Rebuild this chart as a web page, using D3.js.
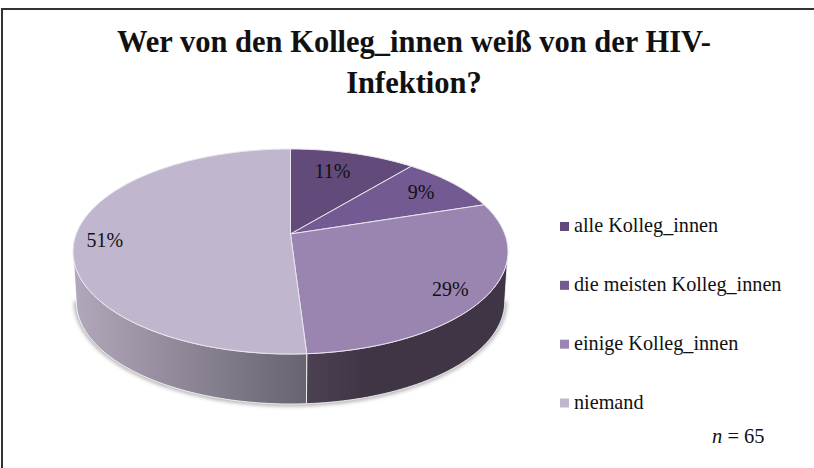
<!DOCTYPE html>
<meta charset="utf-8">
<style>
  body { margin: 0; background: #fff; }
  text { font-family: "Liberation Serif", serif; fill: #111; }
</style>
<div class="chart"></div>
<script src="https://d3js.org/d3.v7.min.js"></script>
<script>
  var categories = ["alle Kolleg_innen", "die meisten Kolleg_innen", "einige Kolleg_innen", "niemand"];
  var percents = [11, 9, 29, 51];
  var sliceColors = ["#624a7b", "#745a93", "#9a84b0", "#c0b6ce"];
  var titleLines = ["Wer von den Kolleg_innen weiß von der HIV-", "Infektion?"];

  var width = 814, height = 468;

  // tilted disc: circle coordinates go through a perspective projection
  var cx = 290.5, cy = 234, k = 0.1707, scaleX = 214.3, scaleY = 99.5, depth = 50, shrink = 0.985;

  var svg = d3.select(".chart").append("svg")
    .attr("width", width)
    .attr("height", height)
    .style("display", "block");

  var defs = svg.append("defs");

  var wallLight = defs.append("linearGradient").attr("id", "wallLight");
  wallLight.append("stop").attr("offset", 0).attr("stop-color", "#b2a8bb");
  wallLight.append("stop").attr("offset", 1).attr("stop-color", "#68636f");

  var wallDark = defs.append("linearGradient").attr("id", "wallDark");
  wallDark.append("stop").attr("offset", 0).attr("stop-color", "#4c4053");
  wallDark.append("stop").attr("offset", 0.3).attr("stop-color", "#403545");
  wallDark.append("stop").attr("offset", 1).attr("stop-color", "#403545");

  defs.append("filter").attr("id", "soft")
    .attr("x", "-10%").attr("y", "-10%").attr("width", "120%").attr("height", "120%")
    .append("feGaussianBlur").attr("stdDeviation", 2);

  // the frame only shows on the top and left side
  svg.append("path")
    .attr("d", "M2,468V9H814")
    .attr("fill", "none")
    .attr("stroke", "#333")
    .attr("stroke-width", 2);

  var title = svg.append("g").attr("font-weight", "bold").attr("font-size", 30.5).attr("text-anchor", "middle");
  titleLines.forEach(function(line, i) {
    title.append("text").attr("x", 414).attr("y", 52 + i * 41).text(line);
  });

  var pie = d3.pie().sort(null).value(function(d) { return d; });
  var arcs = pie(percents);

  function project(angle, r, drop) {
    var u = r * Math.sin(angle), v = r * Math.cos(angle), w = 1 + k * v;
    var x = scaleX * u / w, y = -scaleY * v / w;
    if (drop) return [cx + x * shrink, cy + y + depth];
    return [cx + x, cy + y];
  }

  function rim(a0, a1, drop) {
    var n = Math.max(2, Math.ceil((a1 - a0) * 40));
    return d3.range(n + 1).map(function(i) { return project(a0 + (a1 - a0) * i / n, 1, drop); });
  }

  var line = d3.line();

  // the outer walls, only the front half of the disc is visible
  var front0 = Math.PI / 2 + 0.17, front1 = 3 * Math.PI / 2 - 0.17;
  var split = arcs[3].startAngle;

  svg.append("path")
    .attr("d", line(rim(front0, split, true).concat(rim(split, front1, true))) )
    .attr("fill", "none")
    .attr("stroke", "#888")
    .attr("stroke-width", 3)
    .attr("filter", "url(#soft)");

  function wall(a0, a1, fill) {
    svg.append("path")
      .attr("d", line(rim(a0, a1, false).concat(rim(a0, a1, true).reverse())) + "Z")
      .attr("fill", fill)
      .attr("stroke", "#fff")
      .attr("stroke-width", 0.8);
  }
  wall(front0, split, "url(#wallDark)");
  wall(split, front1, "url(#wallLight)");

  svg.selectAll(".slice")
    .data(arcs)
    .enter().append("path")
    .attr("class", "slice")
    .attr("d", function(d) { return line([project(0, 0)].concat(rim(d.startAngle, d.endAngle))) + "Z"; })
    .attr("fill", function(d, i) { return sliceColors[i]; })
    .attr("stroke", "#e9e6ee")
    .attr("stroke-width", 1);

  var labelRadius = [0.72, 0.8, 0.83, 0.863];
  var labelNudge = [[-5, -1.5], [-1, 0.5], [0, 6], [0, 4]];
  svg.selectAll(".label")
    .data(arcs)
    .enter().append("text")
    .attr("class", "label")
    .attr("font-size", 20)
    .attr("text-anchor", "middle")
    .attr("x", function(d, i) { return project((d.startAngle + d.endAngle) / 2, labelRadius[i])[0] + labelNudge[i][0]; })
    .attr("y", function(d, i) { return project((d.startAngle + d.endAngle) / 2, labelRadius[i])[1] + 6 + labelNudge[i][1]; })
    .text(function(d, i) { return percents[i] + "%"; });

  var legendY = d3.scalePoint().domain(categories).range([226.5, 403]);
  var legend = svg.selectAll(".legend")
    .data(categories)
    .enter().append("g")
    .attr("class", "legend")
    .attr("transform", function(d) { return "translate(560," + legendY(d) + ")"; });
  legend.append("rect")
    .attr("y", -4.5).attr("width", 9).attr("height", 9)
    .attr("fill", function(d, i) { return sliceColors[i]; });
  legend.append("text")
    .attr("x", 14).attr("y", 5.5)
    .attr("font-size", 20.2)
    .text(function(d) { return d; });

  var note = svg.append("text").attr("x", 712).attr("y", 443).attr("font-size", 20.5);
  note.append("tspan").attr("font-style", "italic").text("n");
  note.append("tspan").text(" = 65");
</script>
